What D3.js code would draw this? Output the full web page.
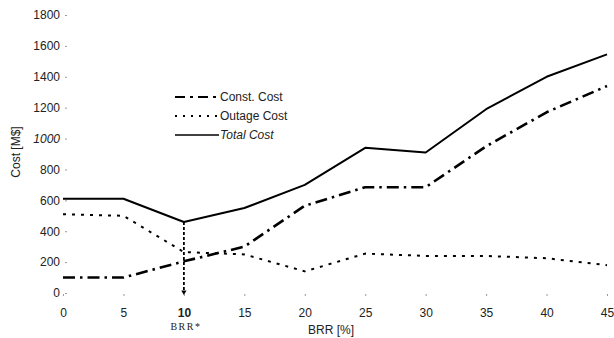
<!DOCTYPE html>
<html>
<head>
<meta charset="utf-8">
<script src="https://cdn.jsdelivr.net/npm/d3@7"></script>
<style>
body { margin:0; background:#fff; }
svg { font-family: "Liberation Sans", Arial, sans-serif; }
</style>
</head>
<body>
<svg id="chart" width="614" height="338"></svg>
<script>
// values
var brr = [0, 5, 10, 15, 20, 25, 30, 35, 40, 45];
var constCost = [100, 100, 205, 300, 565, 685, 685, 950, 1170, 1340];
var outageCost = [510, 500, 265, 250, 140, 255, 240, 240, 225, 180];
var totalCost = [610, 610, 460, 550, 700, 940, 910, 1190, 1400, 1545];
var yTicks = [0, 200, 400, 600, 800, 1000, 1200, 1400, 1600, 1800];
var xTicks = [0, 5, 10, 15, 20, 25, 30, 35, 40, 45];
var brrStar = 10;

var svg = d3.select("#chart");
var x = d3.scaleLinear().domain([0, 45]).range([63, 607]);
var y = d3.scaleLinear().domain([0, 1800]).range([293, 15]);

//y axis: labels + little tick dots, no line
var yAx = svg.append("g").attr("transform", "translate(67,0)")
	.call(d3.axisLeft(y).tickValues(yTicks).tickFormat(d3.format("d")).tickSize(2).tickPadding(5));
yAx.select(".domain").remove();
yAx.selectAll("text").attr("font-size", 12).attr("fill", "#222")
	.attr("font-family", "Liberation Sans, Arial, sans-serif")
	.attr("font-style", function(d){ return d == 1000 ? "italic" : null });
yAx.selectAll("line").attr("stroke", "#999");

var xAx = svg.append("g").attr("transform", "translate(0,294)")
	.call(d3.axisBottom(x).tickValues(xTicks).tickFormat(d3.format("d")).tickSize(2).tickPadding(12));
xAx.select(".domain").remove();
xAx.selectAll("text").attr("font-size", 12).attr("fill", "#222")
	.attr("font-family", "Liberation Sans, Arial, sans-serif")
	.attr("font-weight", function(d){ return d == brrStar ? "bold" : null });
xAx.selectAll("line").attr("stroke", "#999");

svg.append("text").attr("transform", "translate(20,152) rotate(-90)")
	.attr("text-anchor", "middle").attr("font-size", 12).attr("fill", "#222")
	.text("Cost [M$]");
svg.append("text").attr("x", 308).attr("y", 334)
	.attr("font-size", 12).attr("fill", "#222").text("BRR [%]");
svg.append("text").attr("x", x(brrStar) + 2).attr("y", 330).attr("text-anchor", "middle")
	.attr("font-size", 10).attr("fill", "#222").attr("font-family", "Liberation Serif, serif")
	.attr("letter-spacing", 1.5).text("BRR*");

var line = d3.line().x(function(d){ return x(d[0]) }).y(function(d){ return y(d[1]) });
function pts(vals){ return brr.map(function(b, i){ return [b, vals[i]] }) }

var series = [
	{name:"Const. Cost", vals:constCost, dash:"12,5,2.5,5", w:2.6, italic:false},
	{name:"Outage Cost", vals:outageCost, dash:"3,6", w:2, italic:false},
	{name:"Total Cost", vals:totalCost, dash:null, w:2, italic:true}
];

//vertical marker at BRR*
var iStar = brr.indexOf(brrStar);
svg.append("line").attr("x1", x(brrStar)).attr("x2", x(brrStar))
	.attr("y1", y(totalCost[iStar])).attr("y2", y(0))
	.attr("stroke", "#000").attr("stroke-width", 1.8).attr("stroke-dasharray", "3,2");
svg.append("path").attr("d", d3.symbol().type(d3.symbolTriangle).size(12)())
	.attr("transform", "translate(" + x(brrStar) + "," + (y(0) - 1) + ") rotate(180)")
	.attr("fill", "#000");

series.forEach(function(s){
	svg.append("path").datum(pts(s.vals)).attr("d", line)
		.attr("fill", "none").attr("stroke", "#000")
		.attr("stroke-width", s.w).attr("stroke-dasharray", s.dash)
		.attr("stroke-linejoin", "round");
});

//legend
var leg = svg.append("g").attr("transform", "translate(175,97)");
series.forEach(function(s, i){
	var g = leg.append("g").attr("transform", "translate(0," + (i * 19) + ")");
	g.append("line").attr("x1", 0).attr("x2", 44).attr("y1", 0).attr("y2", 0)
		.attr("stroke", "#000").attr("stroke-width", i == 2 ? 1.6 : 2)
		.attr("stroke-dasharray", i == 0 ? "10,5,3,5" : (i == 1 ? "2,6" : null));
	g.append("text").attr("x", 45).attr("y", 4).attr("font-size", 12).attr("fill", "#222")
		.attr("font-style", s.italic ? "italic" : null).text(s.name);
});
</script>
</body>
</html>
